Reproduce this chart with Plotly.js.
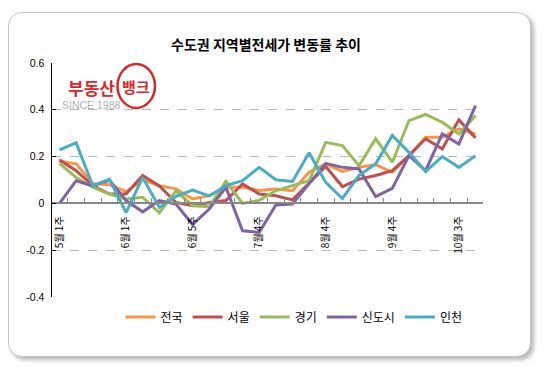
<!DOCTYPE html>
<html>
<head>
<meta charset="utf-8">
<script src="https://cdn.plot.ly/plotly-3.0.1.min.js"></script>
<style>
  html, body { margin: 0; padding: 0; background: #ffffff; }
  #frame { position: absolute; left: 8px; top: 12px; width: 521px; height: 343px;
           border: 1px solid #c4c4c4; border-radius: 14px; background: #fff;
           box-shadow: 3px 3px 4px rgba(0,0,0,0.28); }
  #chart { position: absolute; left: 0; top: 0; width: 549px; height: 369px; }
</style>
</head>
<body>
<div id="frame"></div>
<div id="chart"></div>
<script>
// ---- data ----
const categories = [
  "5월 1주","5월 2주","5월 3주","5월 4주",
  "6월 1주","6월 2주","6월 3주","6월 4주","6월 5주",
  "7월 1주","7월 2주","7월 3주","7월 4주",
  "8월 1주","8월 2주","8월 3주","8월 4주",
  "9월 1주","9월 2주","9월 3주","9월 4주","9월 5주",
  "10월 1주","10월 2주","10월 3주","10월 4주"
];
const seriesNames = ["전국","서울","경기","신도시","인천"];
const national = [0.180,0.169,0.085,0.080,0.050,0.100,0.076,0.062,0.019,0.033,0.069,0.069,0.055,0.062,0.054,0.133,0.169,0.137,0.154,0.166,0.133,0.204,0.283,0.283,0.319,0.297];
const seoul    = [0.186,0.140,0.076,0.040,0.040,0.119,0.075,0.004,-0.010,0.004,0.012,0.083,0.040,0.033,0.015,0.086,0.158,0.072,0.104,0.119,0.140,0.204,0.276,0.233,0.357,0.280];
const gyeonggi = [0.171,0.111,0.069,0.040,0.019,0.026,-0.040,0.054,-0.010,-0.014,0.094,0.000,0.013,0.054,0.076,0.097,0.261,0.247,0.161,0.276,0.176,0.354,0.380,0.347,0.297,0.376];
const newtown  = [0.000,0.097,0.075,0.100,0.012,-0.036,0.012,-0.003,-0.090,-0.024,0.069,-0.117,-0.124,-0.007,-0.003,0.083,0.171,0.154,0.147,0.029,0.064,0.204,0.140,0.297,0.254,0.418];
const incheon  = [0.229,0.259,0.075,0.104,-0.039,0.111,-0.017,0.030,0.057,0.032,0.076,0.097,0.154,0.101,0.094,0.216,0.090,0.021,0.120,0.169,0.290,0.218,0.136,0.200,0.154,0.204];
const yTickVals = [-0.4,-0.2,0,0.2,0.4,0.6];
const yTickText = ["-0.4","-0.2","0","0.2","0.4","0.6"];
const colors = ["#F79646","#C0504D","#9BBB59","#8064A2","#4BACC6"];

// ---- layout geometry (pixels) ----
const W = 549, H = 369;
const mL = 52, mR = 66, mT = 63, mB = 72;
const pw = W - mL - mR, ph = H - mT - mB;
const px = x => (x - mL) / pw;
const py = y => (H - mB - y) / ph;

const values = [national, seoul, gyeonggi, newtown, incheon];
const traces = values.map((v, i) => ({
  type: "scatter", mode: "lines", name: seriesNames[i],
  x: categories, y: v,
  line: {color: colors[i], width: 3},
  hoverinfo: "skip"
}));

const layout = {
  width: W, height: H,
  margin: {l: mL, r: mR, t: mT, b: mB, pad: 0},
  paper_bgcolor: "rgba(0,0,0,0)",
  plot_bgcolor: "rgba(0,0,0,0)",
  font: {family: "'Noto Sans CJK KR', 'Liberation Sans', sans-serif", color: "#000", size: 10},
  title: {
    text: "수도권 지역별전세가 변동률 추이",
    font: {size: 14, color: "#000", weight: 700, family: "'Noto Sans CJK KR', sans-serif"},
    x: px(266), xref: "paper", xanchor: "center",
    y: 1 - 45 / H, yref: "container", yanchor: "middle"
  },
  showlegend: true,
  legend: {
    orientation: "h", x: px(294), xanchor: "center", y: py(317), yanchor: "middle",
    font: {size: 12, color: "#000"}, itemwidth: 30, tracegroupgap: 0,
    bgcolor: "rgba(0,0,0,0)"
  },
  xaxis: {
    type: "category", range: [-0.45, 25.45],
    anchor: "free", position: 0.4,
    showline: true, linecolor: "#888888", linewidth: 2,
    showgrid: false, zeroline: false,
    tickmode: "array", tickvals: categories,
    ticktext: categories.map((c, i) => (i % 4 === 0 ? c : "")),
    tickson: "boundaries", ticks: "inside", ticklen: 4, tickwidth: 1, tickcolor: "#888888",
    tickangle: -90, ticklabelstandoff: 8,
    tickfont: {size: 10, color: "#000"}
  },
  yaxis: {
    range: [-0.4, 0.6], autorange: false,
    tickmode: "array", tickvals: yTickVals, ticktext: yTickText,
    showline: true, linecolor: "#000", linewidth: 1.5,
    ticks: "inside", ticklen: 4, tickcolor: "#000",
    showgrid: true, gridcolor: "#b8b8b8", griddash: "dash", gridwidth: 1,
    zeroline: false,
    ticklabelstandoff: 4,
    tickfont: {size: 10.5, color: "#000", family: "'Liberation Sans', sans-serif"}
  },
  shapes: [
    {type: "circle", xref: "paper", yref: "paper",
     x0: px(117.5), x1: px(155), y0: py(108), y1: py(64),
     line: {color: "#d42a2a", width: 2.5}, fillcolor: "rgba(0,0,0,0)"}
  ],
  annotations: [
    {text: "<b>부동산</b>", xref: "paper", yref: "paper", x: px(91), y: py(88),
     xanchor: "center", yanchor: "middle", showarrow: false,
     font: {size: 17, color: "#d42a2a", family: "'Noto Sans CJK KR', sans-serif"}},
    {text: "<b>뱅크</b>", xref: "paper", yref: "paper", x: px(136), y: py(86),
     xanchor: "center", yanchor: "middle", showarrow: false,
     font: {size: 15, color: "#d42a2a", family: "'Noto Sans CJK KR', sans-serif"}},
    {text: "SINCE 1988", xref: "paper", yref: "paper", x: px(91), y: py(105),
     xanchor: "center", yanchor: "middle", showarrow: false,
     font: {size: 10.5, color: "#b0b0b0", family: "'Liberation Sans', sans-serif"}}
  ]
};

Plotly.newPlot("chart", traces, layout, {staticPlot: true, displayModeBar: false});
</script>
</body>
</html>
